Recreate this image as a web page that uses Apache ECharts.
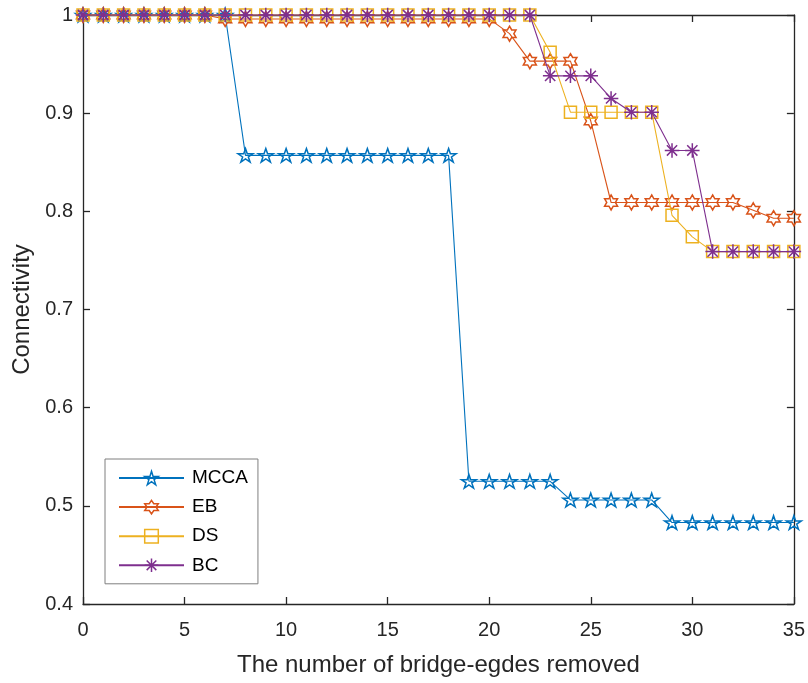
<!DOCTYPE html>
<html>
<head>
<meta charset="utf-8">
<script src="https://cdn.jsdelivr.net/npm/echarts@6/dist/echarts.min.js"></script>
<style>
html,body{margin:0;padding:0;background:#fff;}
#chart{width:808px;height:683px;}
</style>
</head>
<body>
<div id="chart"></div>
<script>
// ---- data ----
const xValues = [0,1,2,3,4,5,6,7,8,9,10,11,12,13,14,15,16,17,18,19,20,21,22,23,24,25,26,27,28,29,30,31,32,33,34,35];
const seriesNames = ['MCCA','EB','DS','BC'];
const mcca = [1,1,1,1,1,1,1,1,
  0.857,0.857,0.857,0.857,0.857,0.857,0.857,0.857,0.857,0.857,0.857,
  0.525,0.525,0.525,0.525,0.525,
  0.506,0.506,0.506,0.506,0.506,
  0.483,0.483,0.483,0.483,0.483,0.483,0.483];
const eb = [1,1,1,1,1,1,1,
  0.996,0.996,0.996,0.996,0.996,0.996,0.996,0.996,0.996,0.996,0.996,0.996,0.996,0.996,
  0.981,0.953,0.953,0.953,0.892,
  0.809,0.809,0.809,0.809,0.809,0.809,0.809,
  0.801,0.793,0.793];
const ds = [1,1,1,1,1,1,1,1,1,1,1,1,1,1,1,1,1,1,1,1,1,1,1,
  0.962,0.901,0.901,0.901,0.901,0.901,0.796,0.774,
  0.759,0.759,0.759,0.759,0.759];
const bc = [1,1,1,1,1,1,1,1,1,1,1,1,1,1,1,1,1,1,1,1,1,1,1,
  0.938,0.938,0.938,0.915,0.901,0.901,0.862,0.862,
  0.759,0.759,0.759,0.759,0.759];
const yTicks = [0.4,0.5,0.6,0.7,0.8,0.9,1];
const xTicks = [0,5,10,15,20,25,30,35];

// ---- marker shapes ----
function starPath(n, inner){
  let d='';
  for(let k=0;k<2*n;k++){
    const a=(-90+k*180/n)*Math.PI/180;
    const r=(k%2===0)?1:inner;
    d+=(k===0?'M':'L')+(r*Math.cos(a)).toFixed(4)+','+(r*Math.sin(a)).toFixed(4);
  }
  return 'path://'+d+'Z';
}
const pentagram = starPath(5,0.382);
const hexagram = starPath(6,0.577);
const square = 'path://M-1,-1L1,-1L1,1L-1,1Z';
const asterisk = 'path://M0,-1L0,1M-1,0L1,0M-0.707,-0.707L0.707,0.707M-0.707,0.707L0.707,-0.707';

const colors = ['#0072BD','#D95319','#EDB120','#7E2F8E'];
const symbols = [pentagram, hexagram, square, asterisk];
const sizes = [[15,14.3],[15,15],[12,12],[14.5,14.5]];
const values = [mcca, eb, ds, bc];

const FONT = '"Liberation Sans", Arial, Helvetica, sans-serif';
const AX = '#262626';

const series = seriesNames.map((name,i)=>({
  name: name,
  type: 'line',
  data: xValues.map((x,j)=>[x, values[i][j]]),
  symbol: symbols[i],
  symbolSize: sizes[i],
  symbolKeepAspect: true,
  showAllSymbol: true,
  clip: false,
  color: colors[i],
  lineStyle: {color: colors[i], width: 1.1},
  itemStyle: {color: 'rgba(0,0,0,0)', borderColor: colors[i], borderWidth: 1.5},
  emphasis: {disabled: true},
  animation: false,
  z: 2+i
}));

const chart = echarts.init(document.getElementById('chart'), null, {renderer:'canvas'});
chart.setOption({
  backgroundColor: '#fff',
  animation: false,
  grid: {left: 83, right: 13, top: 15, bottom: 79, containLabel: false},
  legend: {
    orient: 'vertical',
    left: 105,
    top: 459,
    data: seriesNames.map((n,i)=>({name:n, itemStyle:{color:'rgba(0,0,0,0)', borderColor:colors[i], borderWidth:1.5}})),
    itemWidth: 65,
    itemHeight: 17,
    itemGap: 10.1,
    padding: [9.5, 10, 9, 13],
    backgroundColor: '#fff',
    borderColor: '#7f7f7f',
    borderWidth: 1,
    borderRadius: 0,
    selectedMode: false,
    textStyle: {fontFamily: FONT, fontSize: 19, color: '#000', padding: [0,0,0,3]}
  },
  xAxis: [{
    type: 'value', min: 0, max: 35, interval: 5,
    name: 'The number of bridge-egdes removed',
    nameLocation: 'middle', nameGap: 61,
    nameTextStyle: {fontFamily: FONT, fontSize: 24, color: AX, verticalAlign: 'middle'},
    axisLine: {show: true, onZero: false, lineStyle: {color: AX, width: 1.3}},
    axisTick: {show: true, inside: true, length: 7, lineStyle: {color: AX, width: 1.3}},
    axisLabel: {show: true, margin: 26, fontFamily: FONT, fontSize: 20, color: AX, verticalAlign: 'middle',
      formatter: v => xTicks.indexOf(v) >= 0 ? String(v) : ''},
    splitLine: {show: false}
  },{
    type: 'value', min: 0, max: 35, interval: 5, position: 'top',
    axisLine: {show: true, onZero: false, lineStyle: {color: AX, width: 1.3}},
    axisTick: {show: true, inside: true, length: 7, lineStyle: {color: AX, width: 1.3}},
    axisLabel: {show: false}, splitLine: {show: false}
  }],
  yAxis: [{
    type: 'value', min: 0.4, max: 1, interval: 0.1,
    name: 'Connectivity',
    nameLocation: 'middle', nameGap: 58,
    nameTextStyle: {fontFamily: FONT, fontSize: 24, color: AX, verticalAlign: 'middle'},
    axisLine: {show: true, onZero: false, lineStyle: {color: AX, width: 1.3}},
    axisTick: {show: true, inside: true, length: 7, lineStyle: {color: AX, width: 1.3}},
    axisLabel: {show: true, margin: 10, fontFamily: FONT, fontSize: 20, color: AX,
      formatter: v => { const t = yTicks.find(y => Math.abs(y - v) < 1e-6); return t === undefined ? '' : String(t); }},
    splitLine: {show: false}
  },{
    type: 'value', min: 0.4, max: 1, interval: 0.1, position: 'right',
    axisLine: {show: true, onZero: false, lineStyle: {color: AX, width: 1.3}},
    axisTick: {show: true, inside: true, length: 7, lineStyle: {color: AX, width: 1.3}},
    axisLabel: {show: false}, splitLine: {show: false}
  }],
  series: series
});
</script>
</body>
</html>
